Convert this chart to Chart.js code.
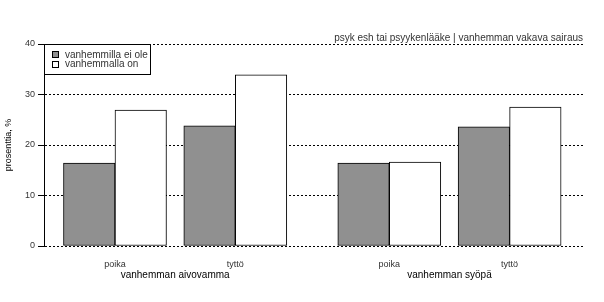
<!DOCTYPE html>
<html>
<head>
<meta charset="utf-8">
<script src="https://cdn.jsdelivr.net/npm/chart.js@4/dist/chart.umd.min.js"></script>
<style>
  html, body { margin: 0; padding: 0; background: #fff; }
</style>
</head>
<body>
<canvas id="chart" width="604" height="302"></canvas>
<script>
  // data
  var groups = ['vanhemman aivovamma', 'vanhemman syöpä'];
  var categories = ['poika', 'tyttö'];
  var seriesNames = ['vanhemmilla ei ole', 'vanhemmalla on'];
  var eiOle = [16.4, 23.8, 16.4, 23.6];
  var on = [26.9, 33.9, 16.6, 27.5];
  var chartTitle = 'psyk esh tai psyykenlääke | vanhemman vakava sairaus';
  var yTitle = 'prosenttia, %';

  var font = 'Liberation Sans';
  var groupGap = 0.28;  // extra space between the two groups

  function xPos(g, c) {
    return g * (categories.length + groupGap) + c;
  }

  // x ticks: one per category plus a group label in the middle of each group
  var tickDefs = [];
  groups.forEach(function (g, gi) {
    categories.forEach(function (c, ci) {
      tickDefs.push({ value: xPos(gi, ci), label: c, group: false });
    });
    tickDefs.push({ value: xPos(gi, (categories.length - 1) / 2), label: ['', g], group: true });
  });

  function points(values) {
    var out = [];
    groups.forEach(function (g, gi) {
      categories.forEach(function (c, ci) {
        out.push({ x: xPos(gi, ci), y: values[gi * categories.length + ci] });
      });
    });
    return out;
  }

  // legend box drawn inside the plot, top left
  var legendBox = {
    id: 'legendBox',
    afterDraw: function (chart) {
      var ctx = chart.ctx;
      var a = chart.chartArea;
      var x = Math.round(a.left), y = Math.round(a.top);
      ctx.save();
      ctx.fillStyle = '#fff';
      ctx.fillRect(x, y, 106, 30);
      ctx.strokeStyle = '#000';
      ctx.lineWidth = 1;
      ctx.strokeRect(x + 0.5, y + 0.5, 106, 30);
      ctx.font = '10px "' + font + '"';
      ctx.textBaseline = 'middle';
      chart.data.datasets.forEach(function (ds, i) {
        var cy = y + 11 + i * 9.5;
        ctx.fillStyle = ds.backgroundColor;
        ctx.fillRect(x + 8.5, Math.round(cy) - 3.5, 6, 6);
        ctx.strokeStyle = '#000';
        ctx.strokeRect(x + 8.5, Math.round(cy) - 3.5, 6, 6);
        ctx.fillStyle = '#333';
        ctx.fillText(ds.label, x + 21, cy);
      });
      ctx.restore();
    }
  };

  var ctx = document.getElementById('chart').getContext('2d');
  var myChart = new Chart(ctx, {
    type: 'bar',
    data: {
      datasets: [{
        label: seriesNames[0],
        data: points(eiOle),
        backgroundColor: '#909090',
        borderColor: '#000',
        borderWidth: 1,
        borderSkipped: false,
        barThickness: 51.5
      }, {
        label: seriesNames[1],
        data: points(on),
        backgroundColor: '#ffffff',
        borderColor: '#000',
        borderWidth: 1,
        borderSkipped: false,
        barThickness: 51.5
      }]
    },
    options: {
      responsive: false,
      animation: false,
      layout: { padding: { left: 0, right: 21, top: 0, bottom: 0 } },
      plugins: {
        legend: { display: false },
        tooltip: { enabled: false },
        title: {
          display: true,
          text: chartTitle,
          align: 'end',
          color: '#333',
          font: { family: font, size: 10, weight: 'normal', lineHeight: 1.2 },
          padding: { top: 32, bottom: 0 }
        }
      },
      scales: {
        x: {
          type: 'linear',
          offset: false,
          min: -0.59,
          max: 3.89,
          grid: { display: false, drawTicks: false, offset: false },
          border: { display: false },
          afterBuildTicks: function (scale) {
            scale.ticks = tickDefs.map(function (t) { return { value: t.value }; });
          },
          afterFit: function (scale) { scale.height = 56; },
          ticks: {
            autoSkip: false,
            maxRotation: 0,
            minRotation: 0,
            padding: 13,
            callback: function (v, i) { return tickDefs[i].label; },
            color: function (c) { return tickDefs[c.index] && tickDefs[c.index].group ? '#000' : '#333'; },
            font: function (c) {
              return tickDefs[c.index] && tickDefs[c.index].group
                ? { family: font, size: 10, lineHeight: 1.1 }
                : { family: font, size: 9, lineHeight: 1.2 };
            }
          }
        },
        y: {
          min: 0,
          max: 40,
          afterFit: function (scale) { scale.width = 44; },
          ticks: {
            stepSize: 10,
            padding: 3,
            color: '#333',
            font: { family: font, size: 9 }
          },
          grid: {
            color: '#000',
            lineWidth: 1,
            tickLength: 6,
            tickColor: '#000',
            tickBorderDash: []
          },
          border: { display: true, color: '#000', width: 1, dash: [2, 2] },
          title: {
            display: true,
            text: yTitle,
            color: '#000',
            font: { family: font, size: 9 },
            padding: { top: 3, bottom: 0 }
          }
        }
      }
    },
    plugins: [legendBox]
  });
</script>
</body>
</html>
